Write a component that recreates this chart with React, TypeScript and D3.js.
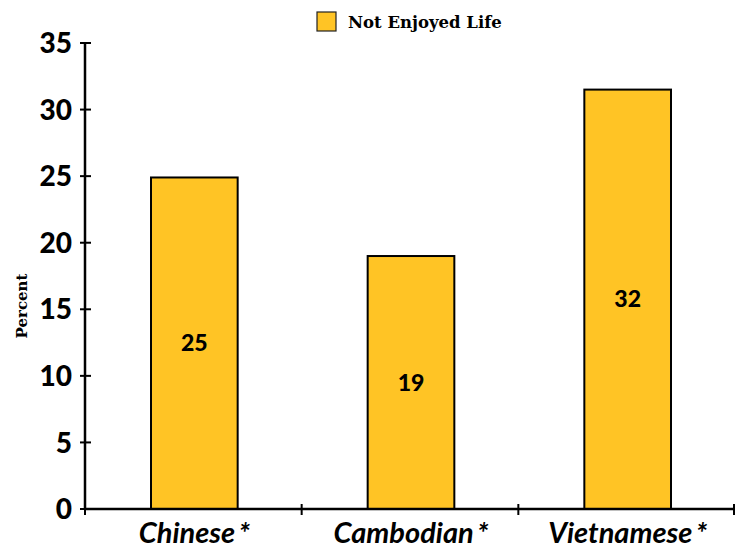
import React, { useEffect, useRef } from "react";
import * as d3 from "d3";

const categories = ["Chinese*", "Cambodian*", "Vietnamese*"];
const values = [24.9, 19.0, 31.5];
const yTicks = [0, 5, 10, 15, 20, 25, 30, 35];
const seriesName = "Not Enjoyed Life";

const W = 735;
const H = 548;
const FILL = "#FFC425";

export default function App() {
  const ref = useRef<SVGSVGElement | null>(null);

  useEffect(() => {
    const svg = d3.select(ref.current);
    svg.selectAll("*").remove();

    const x = d3.scaleBand<string>().domain(categories).range([85, 735]).padding(0);
    const y = d3.scaleLinear().domain([0, 35]).range([509, 43]);
    const barW = x.bandwidth() * 0.4;

    // bars with their value labels
    const g = svg.append("g");
    categories.forEach((c, i) => {
      const cx = (x(c) as number) + x.bandwidth() / 2 + 1;
      g.append("rect")
        .attr("x", cx - barW / 2)
        .attr("y", y(values[i]))
        .attr("width", barW)
        .attr("height", y(0) - y(values[i]))
        .attr("fill", FILL)
        .attr("stroke", "#000")
        .attr("stroke-width", 2);
      g.append("text")
        .attr("x", cx)
        .attr("y", y(values[i] / 2))
        .attr("dy", "0.35em")
        .attr("text-anchor", "middle")
        .attr("font-family", "Lato, 'DejaVu Sans', sans-serif")
        .attr("font-weight", 900)
        .attr("font-size", 23)
        .attr("fill", "#000")
        .text(String(Math.round(values[i])));
    });

    // y axis
    svg.append("line")
      .attr("x1", 85).attr("x2", 85)
      .attr("y1", y(35)).attr("y2", y(0))
      .attr("stroke", "#000").attr("stroke-width", 2.5);
    yTicks.forEach((t) => {
      svg.append("line")
        .attr("x1", 80).attr("x2", 91)
        .attr("y1", y(t)).attr("y2", y(t))
        .attr("stroke", "#000").attr("stroke-width", 2);
      svg.append("text")
        .attr("x", 72)
        .attr("y", y(t))
        .attr("dy", "0.36em")
        .attr("text-anchor", "end")
        .attr("font-family", "Lato, 'DejaVu Sans', sans-serif")
        .attr("font-weight", 900)
        .attr("font-size", 28)
        .attr("fill", "#000")
        .text(String(t));
    });

    // x axis
    svg.append("line")
      .attr("x1", 85).attr("x2", 735)
      .attr("y1", y(0)).attr("y2", y(0))
      .attr("stroke", "#000").attr("stroke-width", 2.5);
    const edges = [...categories.map((c) => x(c) as number), 735];
    edges.forEach((ex) => {
      svg.append("line")
        .attr("x1", Math.min(ex, 734)).attr("x2", Math.min(ex, 734))
        .attr("y1", y(0) - 5).attr("y2", y(0) + 6)
        .attr("stroke", "#000").attr("stroke-width", 2);
    });
    categories.forEach((c) => {
      const t = svg.append("text")
        .attr("x", (x(c) as number) + x.bandwidth() / 2 + 1)
        .attr("y", 543)
        .attr("text-anchor", "middle")
        .attr("font-family", "Lato, 'DejaVu Sans', sans-serif")
        .attr("font-weight", 700)
        .attr("font-style", "italic")
        .attr("font-size", 29)
        .attr("fill", "#000");
      t.append("tspan").text(c.slice(0, -1));
      t.append("tspan").attr("dx", 4).text(c.slice(-1));
    });

    // y axis title
    svg.append("text")
      .attr("transform", "translate(27,306) rotate(-90)")
      .attr("text-anchor", "middle")
      .attr("font-family", "'DejaVu Serif', serif")
      .attr("font-weight", 700)
      .attr("font-size", 15)
      .attr("fill", "#000")
      .text("Percent");

    // legend
    svg.append("rect")
      .attr("x", 317).attr("y", 12)
      .attr("width", 19).attr("height", 19)
      .attr("fill", FILL).attr("stroke", "#222").attr("stroke-width", 1.2);
    svg.append("text")
      .attr("x", 348).attr("y", 28)
      .attr("font-family", "'DejaVu Serif', serif")
      .attr("font-weight", 700)
      .attr("font-size", 16.5)
      .attr("fill", "#000")
      .text(seriesName);
  }, []);

  return (
    <div style={{ position: "fixed", left: 0, top: 0 }}>
      <svg ref={ref} width={W} height={H} style={{ display: "block", background: "#fff" }} />
    </div>
  );
}
